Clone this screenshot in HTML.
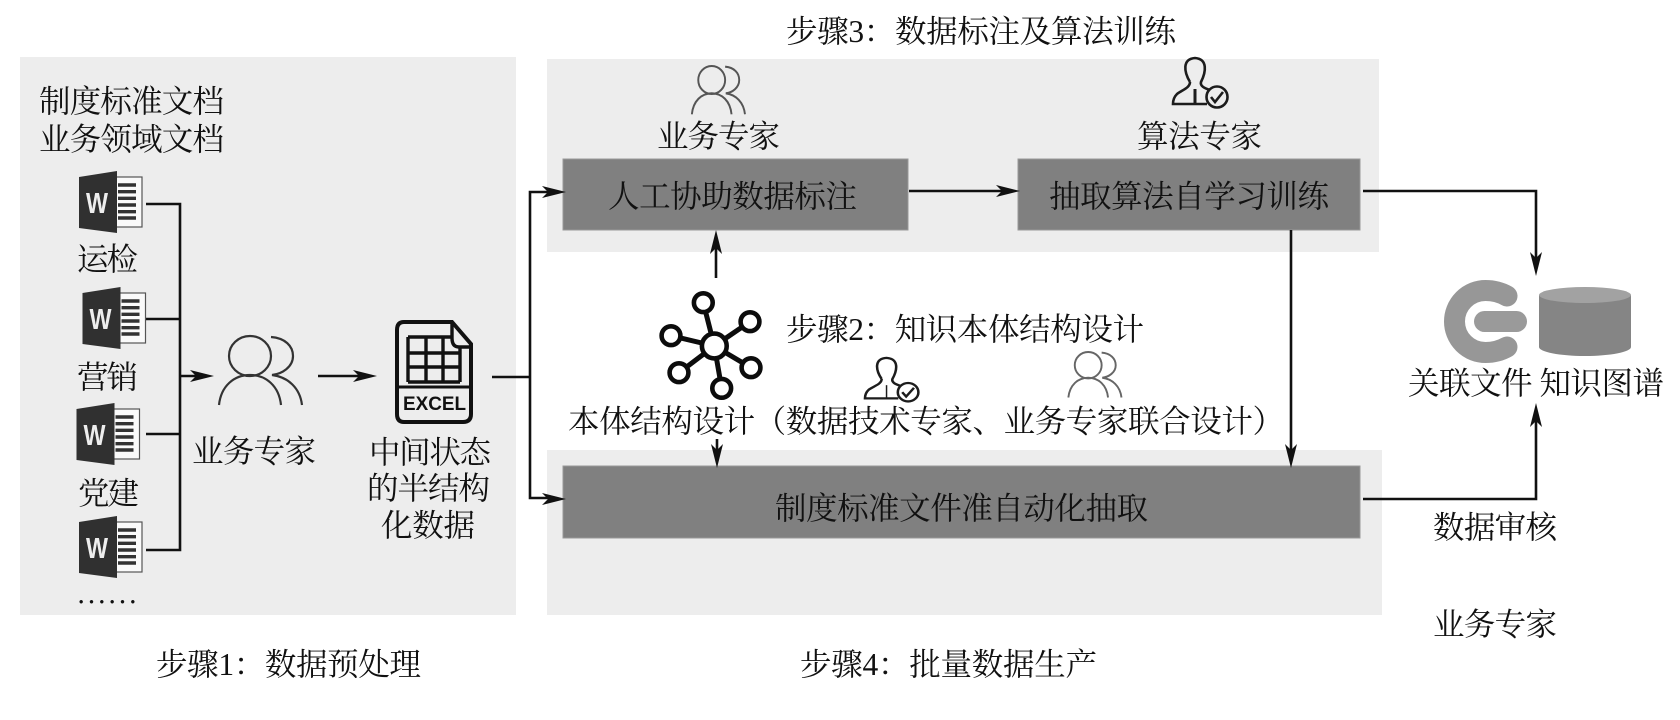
<!DOCTYPE html>
<html lang="zh">
<head>
<meta charset="utf-8">
<title>知识图谱构建流程</title>
<style>
html,body{margin:0;padding:0;background:#fff;width:1680px;height:720px;overflow:hidden}
svg{display:block;filter:blur(.35px)}
text{font-family:"Liberation Serif","Noto Serif CJK SC",serif;font-size:31.5px;fill:#111}
.c{stroke:#111;stroke-width:2.6;fill:none}
.h{fill:#111;stroke:none}
.p{fill:none;stroke:#333;stroke-width:2.2}
.e{fill:none;stroke:#1c1c1c;stroke-width:2.6}
.o{fill:#fff;stroke:#0c0c0c;stroke-width:4.6}
.wd{fill:#303030}
.wp{fill:#fafafa;stroke:#555;stroke-width:1.2}
.wl{stroke:#333;stroke-width:3.4}
.w{font-family:"Liberation Sans",sans-serif;font-weight:bold;font-size:29px;fill:#eee}
</style>
</head>
<body>
<svg width="1680" height="720" viewBox="0 0 1680 720" xmlns="http://www.w3.org/2000/svg">
<!-- panels -->
<rect x="20" y="57" width="496" height="558" fill="#ededed"/>
<rect x="547" y="59" width="832" height="193" fill="#ededed"/>
<rect x="547" y="450" width="835" height="165" fill="#ededed"/>
<!-- dark boxes -->
<rect x="563" y="159" width="345" height="71" fill="#808080" stroke="#999" stroke-width="1"/>
<rect x="1018" y="159" width="342" height="71" fill="#808080" stroke="#999" stroke-width="1"/>
<rect x="563" y="466" width="797" height="72" fill="#808080" stroke="#999" stroke-width="1"/>

<!-- connectors -->
<path class="c" d="M146,204H180V550H146M146,319H180M146,434H180M180,376H205"/>
<path class="c" d="M318,376H370"/>
<path class="c" d="M492,377H530M556,192H530V498H556"/>
<path class="c" d="M909,191H1012"/>
<path class="c" d="M716,278V236"/>
<path class="c" d="M717,439V462"/>
<path class="c" d="M1363,191H1536V268"/>
<path class="c" d="M1291,230V460"/>
<path class="c" d="M1363,499H1536V410"/>
<!-- arrowheads -->
<polygon class="h" points="214,376 190,370 196,376 190,382"/>
<polygon class="h" points="377,376 353,370 359,376 353,382"/>
<polygon class="h" points="566,192 542,186 548,192 542,198"/>
<polygon class="h" points="566,499 542,493 548,499 542,505"/>
<polygon class="h" points="1020,191 996,185 1002,191 996,197"/>
<polygon class="h" points="716,230 710,254 716,248 722,254"/>
<polygon class="h" points="717,468 711,444 717,450 723,444"/>
<polygon class="h" points="1536,276 1530,252 1536,258 1542,252"/>
<polygon class="h" points="1291,468 1285,444 1291,450 1297,444"/>
<polygon class="h" points="1536,403 1530,427 1536,421 1542,427"/>

<!-- word icons -->
<g>
<rect class="wp" x="112" y="177" width="30" height="50"/>
<path class="wd" d="M79,177L117,171V233L79,228Z"/>
<path class="wl" d="M118,185H136M118,191.7H136M118,198.3H136M118,205H136M118,211.7H136M118,218H136"/>
<text class="w" x="86" y="213" textLength="22" lengthAdjust="spacingAndGlyphs">W</text>
</g>
<g transform="translate(3.5,116)">
<rect class="wp" x="112" y="177" width="30" height="50"/>
<path class="wd" d="M79,177L117,171V233L79,228Z"/>
<path class="wl" d="M118,185H136M118,191.7H136M118,198.3H136M118,205H136M118,211.7H136M118,218H136"/>
<text class="w" x="86" y="213" textLength="22" lengthAdjust="spacingAndGlyphs">W</text>
</g>
<g transform="translate(-2.5,232)">
<rect class="wp" x="112" y="177" width="30" height="50"/>
<path class="wd" d="M79,177L117,171V233L79,228Z"/>
<path class="wl" d="M118,185H136M118,191.7H136M118,198.3H136M118,205H136M118,211.7H136M118,218H136"/>
<text class="w" x="86" y="213" textLength="22" lengthAdjust="spacingAndGlyphs">W</text>
</g>
<g transform="translate(0,345)">
<rect class="wp" x="112" y="177" width="30" height="50"/>
<path class="wd" d="M79,177L117,171V233L79,228Z"/>
<path class="wl" d="M118,185H136M118,191.7H136M118,198.3H136M118,205H136M118,211.7H136M118,218H136"/>
<text class="w" x="86" y="213" textLength="22" lengthAdjust="spacingAndGlyphs">W</text>
</g>

<!-- people icons -->
<g transform="translate(220,336)" class="p">
<ellipse cx="30" cy="20" rx="21" ry="20"/>
<path d="M-1,69C1,50 14,39 30,39C46,39 59,50 61,69M51,1C65,2 73,10 73,20C73,31 62,38 52,39C68,41 80,52 82,69"/>
</g>
<g transform="translate(692.5,66) scale(.64,.7)" class="p" style="stroke:#555;stroke-width:3">
<ellipse cx="30" cy="20" rx="21" ry="20"/>
<path d="M-1,69C1,50 14,39 30,39C46,39 59,50 61,69M51,1C65,2 73,10 73,20C73,31 62,38 52,39C68,41 80,52 82,69"/>
</g>
<g transform="translate(1069,352) scale(.64,.66)" class="p" style="stroke:#666;stroke-width:3">
<ellipse cx="30" cy="20" rx="21" ry="20"/>
<path d="M-1,69C1,50 14,39 30,39C46,39 59,50 61,69M51,1C65,2 73,10 73,20C73,31 62,38 52,39C68,41 80,52 82,69"/>
</g>

<!-- expert icons -->
<g transform="translate(1172,57)" class="e">
<path d="M18,25C12,15 10,2 23,1C36,2 34,15 29,25C28,29 32,31 38,33M18,25C18,31 10,33 5,37C2,40 1,44 1,47H35"/>
<path d="M23,32V46" stroke-width="3"/>
<circle cx="45" cy="40" r="10.5"/>
<path d="M39,40L43,45L51,35"/>
</g>
<g transform="translate(864,357) scale(.98,.88)" class="e">
<path d="M18,25C12,15 10,2 23,1C36,2 34,15 29,25C28,29 32,31 38,33M18,25C18,31 10,33 5,37C2,40 1,44 1,47H35"/>
<path d="M23,32V46" stroke-width="1.5"/>
<circle cx="45" cy="40" r="10.5"/>
<path d="M39,40L43,45L51,35"/>
</g>

<!-- ontology icon -->
<path style="fill:none;stroke:#0c0c0c;stroke-width:5" d="M714.3,346L703.3,302.7M714.3,346L750,321.7M714.3,346L751,367.7M714.3,346L721.7,388.3M714.3,346L679,372.7M714.3,346L671,335.7"/>
<circle class="o" cx="714.3" cy="346" r="12.4"/>
<circle class="o" cx="703.3" cy="302.7" r="9.4"/>
<circle class="o" cx="750" cy="321.7" r="9.4"/>
<circle class="o" cx="751" cy="367.7" r="9.4"/>
<circle class="o" cx="721.7" cy="388.3" r="9.4"/>
<circle class="o" cx="679" cy="372.7" r="9.4"/>
<circle class="o" cx="671" cy="335.7" r="9.4"/>

<!-- excel icon -->
<g fill="none" stroke="#111">
<path stroke-width="3.4" d="M408,337H460M408,353H460M408,367H460M408,382H460M408,337V382M426,337V382M443,337V382M460,347V382"/>
<path fill="#ededed" stroke="none" d="M453,324L472,346H453Z"/>
<path stroke-width="4" d="M404,322H452L471,344V414Q471,422 463,422H404Q397,422 397,414V330Q397,322 404,322Z"/>
<path stroke-width="3.4" d="M452,323V338Q452,347 459,347H471"/>
<path stroke-width="3" d="M397,387H471"/>
</g>
<text x="403" y="410" textLength="63" lengthAdjust="spacingAndGlyphs" style="font-family:'Liberation Sans',sans-serif;font-weight:bold;font-size:19px;fill:#111">EXCEL</text>

<!-- graph + db icons -->
<path d="M1507,296C1500,292 1493,290.5 1485.5,290.5A31,31 0 0 0 1485.5,352.5C1493,352.5 1500,351 1507,347" fill="none" stroke="#979797" stroke-width="21" stroke-linecap="round"/>
<rect x="1474" y="311" width="53" height="21" rx="10.5" fill="#9a9a9a"/>
<path d="M1539,295V347C1539,352 1560,356 1585,356C1610,356 1631,352 1631,347V295Z" fill="#858585"/>
<ellipse cx="1585" cy="295" rx="46" ry="8" fill="#a2a2a2"/>

<!-- labels -->
<text x="786" y="42" textLength="390">步骤3：数据标注及算法训练</text>
<text x="39" y="112" textLength="185">制度标准文档</text>
<text x="39" y="150" textLength="185">业务领域文档</text>
<text x="77" y="270" textLength="61">运检</text>
<text x="77" y="388" textLength="61">营销</text>
<text x="78" y="504" textLength="61">党建</text>
<text x="76" y="614" style="font-family:'Noto Serif CJK SC',serif;font-size:31px">……</text>
<text x="192" y="462" textLength="124">业务专家</text>
<text x="369" y="463" textLength="122">中间状态</text>
<text x="367" y="499" textLength="123">的半结构</text>
<text x="381" y="536" textLength="94">化数据</text>
<text x="156" y="675" textLength="265">步骤1：数据预处理</text>
<text x="657" y="147" textLength="123">业务专家</text>
<text x="1137" y="147" textLength="125">算法专家</text>
<text x="608" y="207" textLength="249">人工协助数据标注</text>
<text x="1049" y="207" textLength="280">抽取算法自学习训练</text>
<text x="786" y="340" textLength="358">步骤2：知识本体结构设计</text>
<text x="568" y="432" textLength="716">本体结构设计（数据技术专家、业务专家联合设计）</text>
<text x="775" y="519" textLength="373">制度标准文件准自动化抽取</text>
<text x="1408" y="394" textLength="256">关联文件 知识图谱</text>
<text x="1433" y="538" textLength="124">数据审核</text>
<text x="1433" y="635" textLength="124">业务专家</text>
<text x="800" y="675" textLength="297">步骤4：批量数据生产</text>
</svg>
</body>
</html>
